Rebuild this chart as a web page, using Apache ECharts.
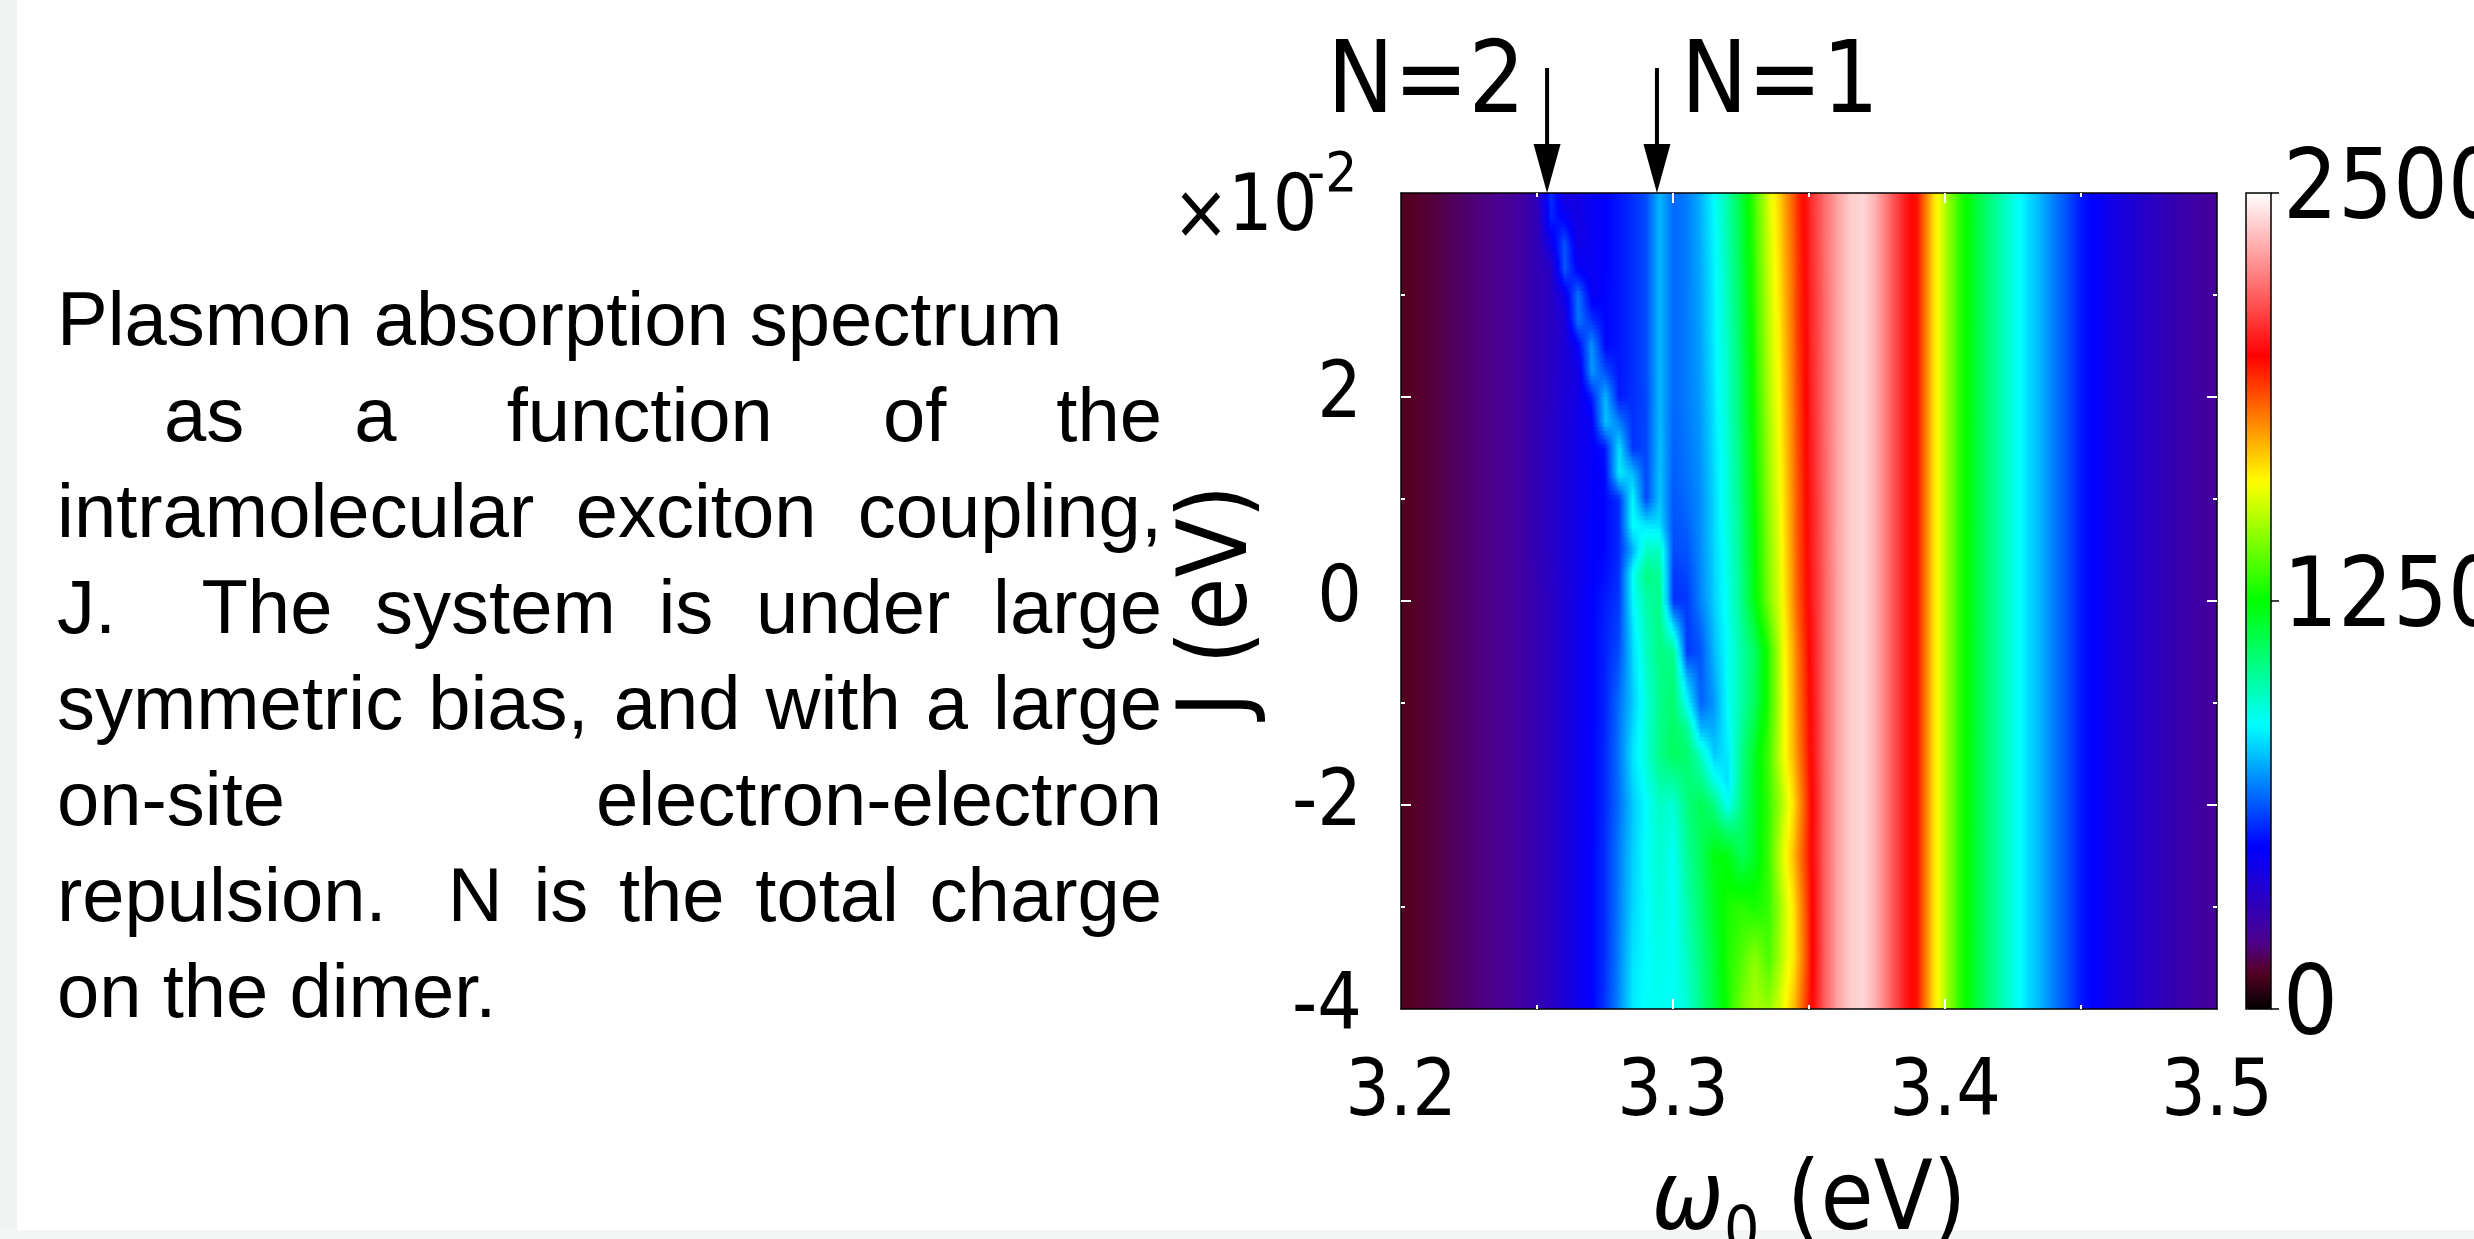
<!DOCTYPE html>
<html>
<head>
<meta charset="utf-8">
<script src="https://cdn.jsdelivr.net/npm/echarts@6/dist/echarts.min.js"></script>
<style>
html,body{margin:0;padding:0;background:#ffffff;}
#chart{width:2474px;height:1239px;}
</style>
</head>
<body>
<div id="chart"></div>
<script>
// ---------------- DATA ----------------
// omega_0 sample positions (eV)
const omegaValues = [3.2,3.205,3.21,3.215,3.22,3.225,3.23,3.235,3.24,3.245,
  3.25,3.255,3.26,3.265,3.27,3.275,3.28,3.285,3.29,3.295,
  3.3,3.305,3.31,3.315,3.32,3.325,3.33,3.335,3.34,3.345,
  3.35,3.355,3.36,3.365,3.37,3.375,3.38,3.385,3.39,3.395,
  3.4,3.405,3.41,3.415,3.42,3.425,3.43,3.435,3.44,3.445,
  3.45,3.455,3.46,3.465,3.47,3.475,3.48,3.485,3.49,3.495,3.5];
// J sample rows (x 10^-2 eV), top to bottom
const jValues = [4,3.75,3.5,3.25,3,2.75,2.5,2.25,2,1.75,1.5,1.25,1,0.75,0.5,0.25,0,
  -0.25,-0.5,-0.75,-1,-1.25,-1.5,-1.75,-2,-2.25,-2.5,-2.75,-3,-3.25,-3.5,-3.75,-4];
// absorption at omega 3.200..3.245 (same in every row)
const farLeft = [100,115,130,145,165,180,195,210,230,262];
// absorption at omega 3.360..3.500 (same in every row)
const farRight = [2310,2400,2420,2330,2190,2060,1960,1700,1500,1320,1200,1090,1000,910,830,
  760,680,610,530,490,450,410,380,350,320,290,270,250,235];
// absorption at omega 3.250..3.355, one row per J value
const centerRows = [
  [325,580,400,425,465,500,530,565,610,770,650,680,760,870,1000,1160,1350,1560,1720,1900,2070,2200],
  [310,550,490,425,465,500,530,565,610,770,650,680,755,865,995,1150,1340,1550,1710,1895,2065,2200],
  [310,445,625,430,465,500,530,565,610,770,650,680,750,860,990,1145,1335,1540,1705,1890,2065,2195],
  [310,345,630,485,465,500,530,565,610,770,650,680,745,855,980,1135,1325,1535,1695,1885,2060,2195],
  [310,345,450,670,470,505,530,565,610,770,650,680,740,850,975,1130,1320,1525,1690,1880,2055,2190],
  [310,345,390,675,570,505,530,565,610,770,650,680,740,850,970,1120,1310,1515,1680,1880,2055,2190],
  [310,345,390,490,720,505,530,565,610,770,650,680,735,845,960,1115,1305,1505,1675,1875,2050,2190],
  [310,345,390,430,725,610,530,565,610,770,650,680,730,840,955,1105,1295,1500,1665,1870,2050,2185],
  [310,345,395,435,540,770,535,565,600,770,650,680,725,835,950,1100,1290,1490,1660,1865,2045,2185],
  [310,350,395,440,475,785,685,570,600,775,645,675,720,830,945,1095,1280,1480,1650,1860,2040,2185],
  [310,350,395,440,480,530,830,575,600,780,640,670,715,825,935,1085,1275,1470,1645,1855,2040,2180],
  [310,350,395,440,480,510,845,775,600,785,635,665,710,820,930,1075,1265,1465,1635,1850,2035,2180],
  [310,350,395,440,485,510,565,870,600,790,625,655,705,815,925,1070,1260,1455,1630,1845,2030,2175],
  [310,350,395,440,490,510,560,880,830,820,615,640,705,815,920,1060,1250,1445,1620,1845,2030,2175],
  [310,350,395,440,490,510,560,750,960,960,610,620,700,810,910,1055,1245,1435,1615,1840,2025,2175],
  [305,345,395,440,495,520,570,880,1060,1020,580,600,695,805,905,1045,1235,1430,1605,1835,2025,2170],
  [300,340,390,445,500,540,580,860,1000,1050,570,580,690,800,900,1040,1230,1420,1600,1830,2020,2170],
  [300,340,390,445,500,545,595,830,980,1055,820,580,650,785,890,1020,1170,1360,1585,1810,2010,2170],
  [300,340,390,445,500,550,610,810,960,1060,1040,580,620,770,880,1000,1110,1300,1570,1790,2000,2170],
  [300,340,390,445,500,550,635,800,940,1050,1070,760,630,745,880,1000,1115,1300,1565,1785,1995,2170],
  [300,340,390,445,500,550,660,790,920,1040,1090,880,640,720,880,1000,1120,1300,1560,1780,1990,2170],
  [300,340,390,445,500,555,665,810,925,1045,1100,1040,760,750,860,1020,1160,1320,1565,1770,1985,2170],
  [300,340,390,445,500,560,670,830,930,1050,1110,1090,960,790,840,1040,1200,1340,1570,1760,1980,2170],
  [300,340,390,445,500,560,665,810,900,1005,1020,1075,1050,900,820,1050,1200,1330,1535,1730,1970,2165],
  [300,340,390,445,500,560,660,790,870,960,930,1060,1130,1060,880,1060,1200,1320,1500,1700,1960,2165],
  [300,340,390,445,500,565,670,795,875,950,905,1040,1120,1150,1080,1090,1200,1325,1530,1725,1965,2165],
  [300,340,390,445,500,570,680,800,880,940,880,1020,1110,1230,1230,1120,1200,1330,1560,1750,1970,2165],
  [300,340,390,445,500,570,680,805,875,935,880,1005,1100,1215,1255,1215,1240,1325,1530,1720,1960,2160],
  [300,340,390,445,500,570,680,810,870,930,880,990,1090,1200,1280,1310,1280,1320,1500,1690,1950,2160],
  [300,340,390,445,500,570,685,820,870,915,880,975,1075,1185,1285,1335,1365,1335,1510,1685,1945,2160],
  [300,340,390,445,500,570,690,830,870,900,880,960,1060,1170,1290,1360,1450,1350,1520,1680,1940,2160],
  [300,340,390,445,500,575,695,835,875,895,880,945,1050,1165,1285,1390,1475,1405,1550,1710,1955,2160],
  [300,340,390,445,500,580,700,840,880,890,880,930,1040,1160,1280,1420,1500,1460,1580,1740,1970,2160]
];
// axis tick labels
const xLabelValues = [3.2, 3.3, 3.4, 3.5];
const yLabelValues = [-4, -2, 0, 2];
const colorbarLabelValues = [0, 1250, 2500];
// annotations
const annotationLabels = ['N=2', 'N=1'];
const annotationOmega = [3.2537, 3.2941];
// caption
const captionLines = [
  'Plasmon absorption spectrum',
  'as a function of the',
  'intramolecular exciton coupling,',
  'J.  The system is under large',
  'symmetric bias, and with a large',
  'on-site electron-electron',
  'repulsion.  N is the total charge',
  'on the dimer.'
];
const captionJustify = [false, true, true, true, true, true, true, false];

// ---------------- STYLE ----------------
const condFont = '"DejaVu Sans Condensed", "DejaVu Sans", sans-serif';
const cmapStops = [
  [0, [0, 0, 0]], [110, [85, 0, 34]], [210, [75, 0, 144]], [500, [0, 0, 255]],
  [870, [0, 255, 255]], [1250, [0, 255, 0]], [1615, [255, 255, 0]],
  [2000, [255, 0, 0]], [2500, [255, 255, 255]]
];
function colorAt(v) {
  if (v <= cmapStops[0][0]) { const c = cmapStops[0][1]; return 'rgb(' + c.join(',') + ')'; }
  for (let i = 1; i < cmapStops.length; i++) {
    if (v <= cmapStops[i][0]) {
      const a = cmapStops[i - 1], b = cmapStops[i];
      const t = (v - a[0]) / (b[0] - a[0]);
      const c = a[1].map((x, n) => Math.round(x + (b[1][n] - x) * t));
      return 'rgb(' + c.join(',') + ')';
    }
  }
  const c = cmapStops[cmapStops.length - 1][1];
  return 'rgb(' + c.join(',') + ')';
}
const cmapColors = [];
for (let i = 0; i <= 100; i++) cmapColors.push(colorAt(2500 * i / 100));

// ---------------- BUILD ----------------
const intensity = centerRows.map(r => farLeft.concat(r, farRight));
// one patch between neighbouring samples (corner values), shaded like "interp" shading
const patches = [];
for (let r = 0; r < jValues.length - 1; r++) {
  for (let k = 0; k < omegaValues.length - 1; k++) {
    patches.push([omegaValues[k], jValues[r], intensity[r][k], intensity[r][k + 1],
      omegaValues[k + 1], jValues[r + 1], intensity[r + 1][k], intensity[r + 1][k + 1]]);
  }
}

const STRIPS = 6;
const GSTOPS = [0, 0.25, 0.5, 0.75, 1];
function renderItem(params, api) {
  const w0 = api.value(0), j0 = api.value(1), vTL = api.value(2), vTR = api.value(3);
  const w1 = api.value(4), j1 = api.value(5), vBL = api.value(6), vBR = api.value(7);
  const pA = api.coord([w0, j0]);
  const pB = api.coord([w1, j1]);
  const x = pA[0], w = pB[0] - pA[0];
  const h = pB[1] - pA[1];
  const children = [];
  for (let s = 0; s < STRIPS; s++) {
    const t = (s + 0.5) / STRIPS;
    const vl = vTL + (vBL - vTL) * t;
    const vr = vTR + (vBR - vTR) * t;
    const stops = GSTOPS.map(o => ({ offset: o, color: colorAt(vl + (vr - vl) * o) }));
    children.push({
      type: 'rect', silent: true,
      shape: { x: x, y: pA[1] + h * s / STRIPS, width: w + 0.8, height: h / STRIPS + 0.8 },
      style: { fill: new echarts.graphic.LinearGradient(0, 0, 1, 0, stops) }
    });
  }
  return { type: 'group', children: children };
}

const chart = echarts.init(document.getElementById('chart'), null, { renderer: 'canvas' });

const tickWhite = { color: '#ffffff', width: 2 };
const frameLine = { show: true, onZero: false, lineStyle: { color: '#000000', width: 1.5 } };

const option = {
  backgroundColor: '#ffffff',
  animation: false,
  grid: [
    { left: 1401, top: 193, width: 816, height: 816, show: false, containLabel: false, outerBoundsMode: 'none' },
    { left: 2246, top: 193, width: 25, height: 816, show: true, z: 10, containLabel: false, outerBoundsMode: 'none',
      borderColor: '#000000', borderWidth: 1.5, backgroundColor: 'rgba(0,0,0,0)' }
  ],
  xAxis: [
    { gridIndex: 0, type: 'value', min: 3.2, max: 3.5, interval: 0.1, position: 'bottom', z: 10,
      axisLine: frameLine,
      axisTick: { show: true, inside: true, length: 10, lineStyle: tickWhite, customValues: [3.3, 3.4] },
      minorTick: { show: true, splitNumber: 2, length: 4, lineStyle: tickWhite },
      splitLine: { show: false }, minorSplitLine: { show: false },
      axisLabel: { show: true, fontSize: 78, fontFamily: condFont, color: '#000000', margin: 47,
        formatter: v => xLabelValues.some(x => Math.abs(x - v) < 1e-6) ? v.toFixed(1) : '' },
      name: '{w|ω}{s|0}{e| (eV)}', nameLocation: 'middle', nameGap: 134,
      nameTextStyle: { color: '#000000', fontFamily: condFont, fontSize: 96,
        rich: {
          w: { fontSize: 96, fontFamily: condFont, fontStyle: 'italic', color: '#000000' },
          s: { fontSize: 62, fontFamily: condFont, color: '#000000', padding: [60, 0, 0, 0] },
          e: { fontSize: 96, fontFamily: condFont, color: '#000000' }
        } }
    },
    { gridIndex: 0, type: 'value', min: 3.2, max: 3.5, interval: 0.1, position: 'top', z: 10,
      axisLine: frameLine,
      axisTick: { show: true, inside: true, length: 10, lineStyle: tickWhite, customValues: [3.3, 3.4] },
      minorTick: { show: true, splitNumber: 2, length: 4, lineStyle: tickWhite },
      splitLine: { show: false }, axisLabel: { show: false } },
    { gridIndex: 1, type: 'value', min: 0, max: 1, show: false }
  ],
  yAxis: [
    { gridIndex: 0, type: 'value', min: -4, max: 4, interval: 2, position: 'left', z: 10,
      axisLine: frameLine,
      axisTick: { show: true, inside: true, length: 10, lineStyle: tickWhite, customValues: [-2, 0, 2] },
      minorTick: { show: true, splitNumber: 2, length: 4, lineStyle: tickWhite },
      splitLine: { show: false }, minorSplitLine: { show: false },
      axisLabel: { show: true, fontSize: 78, fontFamily: condFont, color: '#000000', margin: 39,
        formatter: v => yLabelValues.indexOf(Math.round(v)) >= 0 && Math.abs(v - Math.round(v)) < 1e-6 ? String(Math.round(v)) : '' },
      name: 'J (eV)', nameLocation: 'middle', nameGap: 132, nameRotate: 90,
      nameTextStyle: { color: '#000000', fontFamily: condFont, fontSize: 96 }
    },
    { gridIndex: 0, type: 'value', min: -4, max: 4, interval: 2, position: 'right', z: 10,
      axisLine: frameLine,
      axisTick: { show: true, inside: true, length: 10, lineStyle: tickWhite, customValues: [-2, 0, 2] },
      minorTick: { show: true, splitNumber: 2, length: 4, lineStyle: tickWhite },
      splitLine: { show: false }, axisLabel: { show: false } },
    { gridIndex: 1, type: 'value', min: 0, max: 2500, interval: 1250, position: 'right', z: 10,
      axisLine: { show: false, onZero: false },
      axisTick: { show: true, inside: false, length: 8, lineStyle: { color: '#000000', width: 1.5 } },
      splitLine: { show: false },
      axisLabel: { show: true, fontSize: 96, fontFamily: condFont, color: '#000000', margin: 12,
        formatter: v => colorbarLabelValues.indexOf(Math.round(v)) >= 0 ? String(Math.round(v)) : '' } }
  ],
  visualMap: [{
    type: 'continuous', seriesIndex: 0, dimension: 2, min: 0, max: 2500,
    orient: 'vertical', left: 2246, top: 193, itemWidth: 25, itemHeight: 816, padding: 0,
    calculable: false, hoverLink: false, realtime: false,
    inRange: { color: cmapColors }
  }],
  series: [{
    type: 'custom', xAxisIndex: 0, yAxisIndex: 0, renderItem: renderItem,
    encode: { x: [0, 4], y: [1, 5] },
    dimensions: ['omega', 'J', 'vTopLeft', 'vTopRight', 'omegaNext', 'JNext', 'vBottomLeft', 'vBottomRight'],
    data: patches, silent: true, z: 2, progressive: 0, clip: true
  }]
};
chart.setOption(option);

// ---------------- ANNOTATIONS & CAPTION ----------------
const graphics = [];
// faint screenshot edges
graphics.push({ type: 'rect', z: 0, silent: true, shape: { x: 0, y: 0, width: 17, height: 1239 }, style: { fill: '#f1f3f3' } });
graphics.push({ type: 'rect', z: 0, silent: true, shape: { x: 0, y: 1230, width: 2474, height: 9 }, style: { fill: '#f4f6f6' } });

// arrows + N labels
annotationOmega.forEach((w, i) => {
  const tip = chart.convertToPixel({ xAxisIndex: 0, yAxisIndex: 0 }, [w, 4]);
  const ax = tip[0], ty = tip[1];
  graphics.push({ type: 'line', z: 20, silent: true,
    shape: { x1: ax, y1: 68, x2: ax, y2: ty - 40 }, style: { stroke: '#000000', lineWidth: 4 } });
  graphics.push({ type: 'polygon', z: 20, silent: true,
    shape: { points: [[ax - 13.5, ty - 49], [ax + 13.5, ty - 49], [ax, ty]] }, style: { fill: '#000000' } });
  const left = i === 1;
  graphics.push({ type: 'text', z: 20, silent: true, x: left ? ax + 24 : ax - 22, y: 86,
    style: { text: annotationLabels[i], font: '99px ' + condFont, fill: '#000000',
      align: left ? 'left' : 'right', verticalAlign: 'middle' } });
});

// x10^-2 multiplier
graphics.push({ type: 'text', z: 20, silent: true, x: 1201, y: 218,
  style: { text: '×', font: '76px ' + condFont, fill: '#000000', align: 'center', verticalAlign: 'middle' } });
graphics.push({ type: 'text', z: 20, silent: true, x: 1228, y: 210,
  style: { text: '10', font: '78px ' + condFont, fill: '#000000', align: 'left', verticalAlign: 'middle' } });
graphics.push({ type: 'text', z: 20, silent: true, x: 1307, y: 176,
  style: { text: '-2', font: '56px ' + condFont, fill: '#000000', align: 'left', verticalAlign: 'middle' } });

// caption, justified
const paraFont = '76px "Liberation Sans", Arial, sans-serif';
const mctx = document.createElement('canvas').getContext('2d');
mctx.font = paraFont;
const paraRight = 1162;
captionLines.forEach((line, i) => {
  const y = 324 + 96 * i;
  const x0 = i === 1 ? 164 : 57;
  if (!captionJustify[i]) {
    graphics.push({ type: 'text', z: 20, silent: true, x: x0, y: y,
      style: { text: line, font: paraFont, fill: '#000000', align: 'left', verticalAlign: 'middle' } });
    return;
  }
  const parts = line.split(/( +)/);
  const words = [], gaps = [];
  parts.forEach((p, n) => { if (n % 2 === 0) words.push(p); else gaps.push(p.length); });
  const wordW = words.reduce((s, w) => s + mctx.measureText(w).width, 0);
  const totalGap = gaps.reduce((s, g) => s + g, 0);
  const unit = (paraRight - x0 - wordW) / totalGap;
  let x = x0;
  words.forEach((w, n) => {
    graphics.push({ type: 'text', z: 20, silent: true, x: x, y: y,
      style: { text: w, font: paraFont, fill: '#000000', align: 'left', verticalAlign: 'middle' } });
    x += mctx.measureText(w).width + (n < gaps.length ? gaps[n] * unit : 0);
  });
});

chart.setOption({ graphic: graphics });
</script>
</body>
</html>
